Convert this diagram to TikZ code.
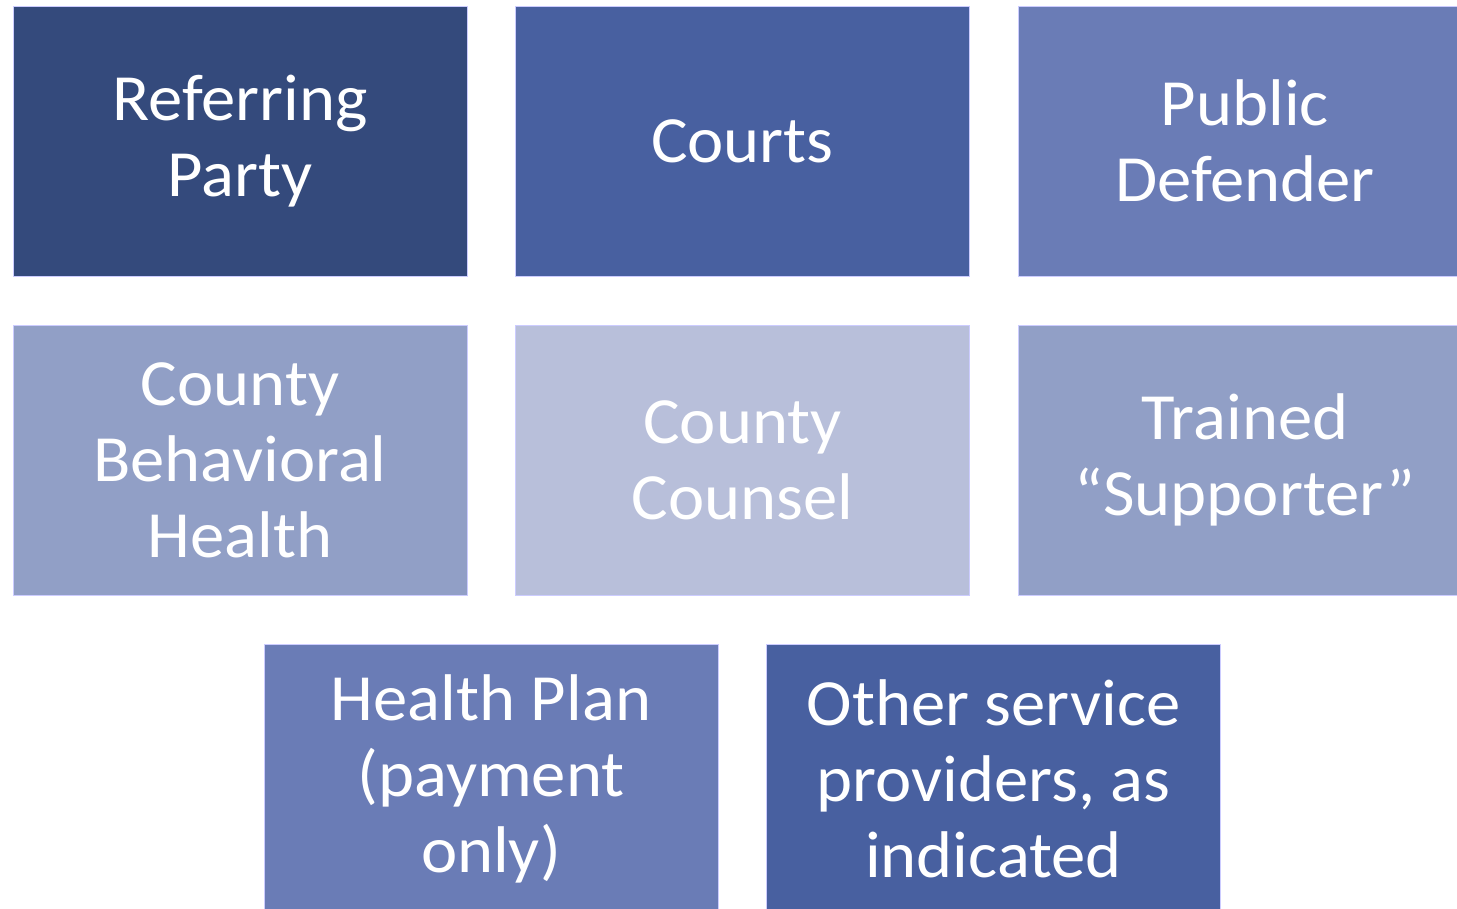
\documentclass[tikz,border=0pt]{standalone}
\usepackage{fontspec}
\setmainfont{Carlito}[FakeStretch=1.04]
\definecolor{navyA}{HTML}{344A7C}
\definecolor{blueB}{HTML}{4860A0}
\definecolor{blueC}{HTML}{6A7CB6}
\definecolor{blueD}{HTML}{919FC6}
\definecolor{blueE}{HTML}{B8BFDA}
\begin{document}
\begin{tikzpicture}[x=1pt,y=-1pt,
  tile/.style={draw=white!80!blue, line width=0.6pt, minimum width=454pt, minimum height=270pt,
    inner sep=0pt, align=center, text=white,
    font=\fontsize{66}{76}\selectfont},
  shadeA/.style={tile, fill=navyA},
  shadeB/.style={tile, fill=blueB},
  shadeC/.style={tile, fill=blueC},
  shadeD/.style={tile, fill=blueD},
  shadeE/.style={tile, fill=blueE}]
\useasboundingbox (0,0) rectangle (1457,909);
\clip (0,0) rectangle (1457,909);
% first row
\node[shadeA] (referring) at (240,141) {Referring\\Party};
\node[shadeB] (courts) at (742.5,141) {Courts};
\node[shadeC] (defender) at (1245,141) {Public\\Defender};
% second row
\node[shadeD] (behavioral) at (240,460) {County\\Behavioral\\Health};
\node[shadeE] (counsel) at (742.5,460) {County\\Counsel};
\node[shadeD] (supporter) at (1245,460) {Trained\\“Supporter”};
% third row
\node[shadeC] (plan) at (491,779) {Health Plan\\(payment\\only)};
\node[shadeB] (others) at (993.5,779) {Other service\\providers, as\\indicated};
\end{tikzpicture}
\end{document}
